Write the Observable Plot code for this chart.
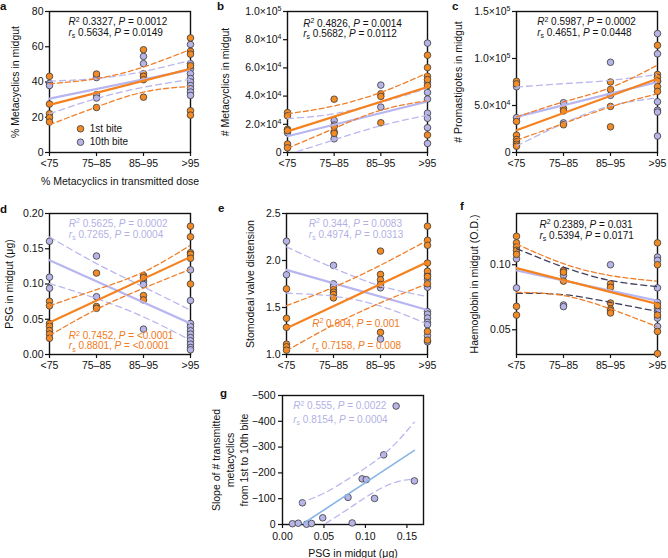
<!DOCTYPE html>
<html>
<head>
<meta charset="utf-8">
<script src="https://cdn.jsdelivr.net/npm/d3@7"></script>
<script src="https://cdn.jsdelivr.net/npm/@observablehq/plot@0.6"></script>
<style>
  html, body { margin: 0; padding: 0; background: #fff; }
  #fig { position: relative; width: 668px; height: 558px; overflow: hidden; background: #fff; }
  #fig > svg { position: absolute; overflow: visible; max-width: none; }
</style>
</head>
<body>
<div id="fig"></div>
<script>
// ---------- data ----------
const cats = ["<75", "75–85", "85–95", ">95"];

// a: % metacyclics in midgut
const aFirst = [[43.2, 27.5, 22, 19.8, 17.3], [44.5, 25.5], [58.3, 44.7, 43.2, 41.3, 31.4], [65, 57.4, 55.8, 49.2, 23.7, 21.2]];
const aTenth = [[39.2, 38], [42.5, 32.8, 30.9], [54.5, 50.4], [61.3, 50.4, 47.5, 44.7, 42, 40, 38, 36.2, 34.3, 32.4]];
const aFit1 = [27, 47.5], aFit10 = [30.6, 47];
const aUp1 = [39, 41.9, 48.5, 58.5], aLo1 = [15.8, 25.8, 34.3, 37.5];
const aUp10 = [40.5, 42, 46, 52.3], aLo10 = [22, 30.6, 37, 41.5];

// b: # metacyclics in midgut
const bFirst = [[28300, 26000, 16400, 15500, 6000, 3300], [37800, 18500, 14700, 13600], [41600, 39800, 21100], [69000, 60200, 54000, 51700, 47400, 12400]];
const bTenth = [[14000], [22700, 19500, 9700], [47800, 32200], [77600, 49800, 42600, 37900, 27900, 24300, 17600, 6400]];
const bFit1 = [15000, 46500], bFit10 = [11500, 36200];
const bUp1 = [27400, 33000, 42600, 56400], bLo1 = [3000, 17100, 30000, 36700];
const bUp10 = [24000, 27500, 35500, 45500], bLo10 = [-1500, 9000, 19000, 26500];

// c: # promastigotes in midgut
const cFirst = [[75700, 73000, 33000, 18400, 13800, 11300, 8800, 6700], [46700, 44200, 29500], [75000, 67000, 49000, 27300], [114000, 83000, 80000, 76000, 70000, 65000]];
const cTenth = [[70000, 37000], [53000, 31500], [96000, 60800], [126500, 105000, 76000, 54000, 45000, 43000, 17500]];
const cFit1 = [23700, 78600], cFit10 = [37900, 75000];
const cUp1 = [37900, 53800, 69000, 93000], cLo1 = [13100, 30800, 48500, 62600];
const cUp10 = [69700, 73200, 76800, 83000], cLo10 = [7000, 31000, 49500, 58000];

// d: PSG in midgut
const dFirst = [[0.0755, 0.069, 0.044, 0.040, 0.034, 0.029, 0.023], [0.1155, 0.068, 0.0655], [0.112, 0.109, 0.0836, 0.0774], [0.182, 0.1668, 0.1444, 0.142, 0.1365, 0.100]];
const dTenth = [[0.1606, 0.1097, 0.094], [0.1397, 0.082], [0.104, 0.0993, 0.036], [0.120, 0.0765, 0.044, 0.0394, 0.0337, 0.029, 0.024, 0.0195, 0.0147, 0.010, 0.0067]];
const dFit1 = [0.0455, 0.1385], dFit10 = [0.1338, 0.044];
const dUp1 = [0.069, 0.092, 0.117, 0.155], dLo1 = [0.027, 0.064, 0.094, 0.121];
const dUp10 = [0.1668, 0.129, 0.0959, 0.0628], dLo10 = [0.1007, 0.0794, 0.0533, 0.0203];

// e: stomodeal valve distension
const eFirst = [[1.698, 1.385, 1.289, 1.11, 1.082, 1.046], [1.688, 1.663, 1.638, 1.602], [2.10, 1.852, 1.795, 1.745, 1.235], [2.365, 2.215, 2.162, 1.973, 1.887, 1.83, 1.752, 1.246, 1.153]];
const eTenth = [[2.205, 1.848], [1.948, 1.752, 1.723], [1.709, 1.164], [1.848, 1.80, 1.716, 1.456, 1.43, 1.388, 1.342, 1.317, 1.2, 1.135]];
const eFit1 = [1.28, 1.984], eFit10 = [1.90, 1.474];
const eUp1 = [1.52, 1.715, 1.95, 2.215], eLo1 = [1.04, 1.315, 1.55, 1.754];
const eUp10 = [2.144, 1.92, 1.73, 1.616], eLo10 = [1.652, 1.62, 1.515, 1.324];

// f: haemoglobin in midgut
const fFirst = [[0.1219, 0.1168, 0.1137, 0.1111, 0.108, 0.068, 0.0613], [0.0956, 0.0943, 0.0874], [0.0853, 0.0827, 0.0706, 0.066, 0.0647, 0.0629], [0.1168, 0.100, 0.0686, 0.0613, 0.0487, 0.0317]];
const fTenth = [[0.1046, 0.0822], [0.0918, 0.0691, 0.0678], [0.100], [0.1059, 0.1034, 0.0822, 0.0711, 0.0665, 0.064, 0.059, 0.0526]];
const fFit1 = [0.0974, 0.0699], fFit10 = [0.0956, 0.0724];
const fUp1 = [0.116, 0.1008, 0.0917, 0.0873], fLo1 = [0.0788, 0.0763, 0.066, 0.0523];
const fUp10 = [0.1124, 0.0982, 0.0879, 0.0832], fLo10 = [0.078, 0.077, 0.0711, 0.0641];

// g: slope vs PSG
const gPsg = [0.012, 0.019, 0.024, 0.029, 0.035, 0.0485, 0.079, 0.084, 0.096, 0.101, 0.111, 0.122, 0.137, 0.159];
const gSlope = [-3, -5, -84, -1, -4, -26, -105, -6, -177, -174, -101, -270, -459, -169];
const gFitX = [0.0234, 0.159], gFitY = [0, -287];
const gUpX = [0.021, 0.05, 0.08, 0.10, 0.12, 0.14, 0.159], gUpY = [-83, -121, -178, -219, -266, -327, -397];
const gLoX = [0.042, 0.05, 0.08, 0.10, 0.12, 0.14, 0.159], gLoY = [15, 0, -62, -105, -142, -167, -177];

// tick labels
const aTicks = [0, 20, 40, 60, 80];
const bTicks = [0, 20000, 40000, 60000, 80000, 100000];
const bTickLabels = ["0", "2.0×10^4^", "4.0×10^4^", "6.0×10^4^", "8.0×10^4^", "1.0×10^5^"];
const cTicks = [0, 50000, 100000, 150000];
const cTickLabels = ["0", "5.0×10^4^", "1.0×10^5^", "1.5×10^5^"];
const dTicks = [0, 0.05, 0.10, 0.15, 0.20];
const eTicks = [1.0, 1.5, 2.0, 2.5];
const fTicks = [0.05, 0.10];
const gXTicks = [0, 0.05, 0.10, 0.15];
const gYTicks = [0, -100, -200, -300, -400, -500];

// ---------- style ----------
const FONT = "'Liberation Sans', Arial, Helvetica, sans-serif";
const col = {
  or: "#f28b26", lav: "#b7b5e8", pt: "#3a3a3a",
  orLine: "#f5821f", lavLine: "#b8b6f0",
  orDash: "#f07f2a", lavDash: "#bab8ee", navy: "#40405e",
  orText: "#f07a22", lavText: "#b3b1e4", blue: "#86b5e6"
};

function flat(groups) { return groups.flatMap((g, i) => g.map(v => ({cat: i, v}))); }

// turn *italic*, ^super^, _sub_ markup into tspans
function rich(svg) {
  svg.querySelectorAll("text").forEach(t => {
    const s = t.textContent;
    if (!/[\^_*]/.test(s)) return;
    while (t.firstChild) t.removeChild(t.firstChild);
    t.style.whiteSpace = "pre";
    let it = false, sup = false, sub = false, buf = "", off = 0;
    const flush = () => {
      if (!buf) return;
      const ts = document.createElementNS("http://www.w3.org/2000/svg", "tspan");
      const target = sup ? -3.8 : sub ? 2.4 : 0;
      if (target !== off) { ts.setAttribute("dy", target - off); off = target; }
      if (it) ts.setAttribute("font-style", "italic");
      if (sup || sub) ts.setAttribute("font-size", "7");
      ts.textContent = buf; t.appendChild(ts); buf = "";
    };
    for (const c of s) {
      if (c === "*") { flush(); it = !it; }
      else if (c === "^") { flush(); sup = !sup; }
      else if (c === "_") { flush(); sub = !sub; }
      else buf += c;
    }
    flush();
  });
}

function statText(str, fill, dx, dy) {
  return Plot.text([str], {x: null, y: null, frameAnchor: "top-left", dx, dy, textAnchor: "start", lineAnchor: "middle", fill, fontSize: 10});
}
function yTitle(str, dx, lineHeight = 1) {
  return Plot.text([str], {x: null, y: null, frameAnchor: "left", dx, rotate: -90, textAnchor: "middle", lineAnchor: "middle", fontSize: 10.5, lineHeight, fill: "#111"});
}
function xTitle(str, dy) {
  return Plot.text([str], {x: null, y: null, frameAnchor: "bottom", dy, textAnchor: "middle", lineAnchor: "middle", fontSize: 10.5, fill: "#111"});
}

function makePlot(p) {
  const svg = Plot.plot({
    width: p.w, height: p.h,
    marginLeft: p.ml, marginRight: p.mr, marginTop: p.mt, marginBottom: p.mb,
    x: {domain: p.xDomain}, y: {domain: p.yDomain},
    style: {fontFamily: FONT, fontSize: "10.5px", background: "transparent", overflow: "visible", color: "#111"},
    marks: p.marks
  });
  svg.style.left = p.left + "px";
  svg.style.top = p.top + "px";
  rich(svg);
  document.getElementById("fig").appendChild(svg);
}

function series(pts, fit, up, lo, fill, line, dash, dashArray) {
  return {pts, fit, up, lo, fill, line, dash, dashArray};
}

function catPanel(p) {
  const m = [
    Plot.frame({stroke: "#111", strokeWidth: 1.4}),
    Plot.axisX({ticks: [0, 1, 2, 3], tickFormat: i => cats[i], tickSize: 4, tickPadding: 3, label: null, color: "#111", strokeWidth: 1.2}),
    Plot.axisY({ticks: p.yTicks, tickFormat: p.yFmt, tickSize: 4, tickPadding: 2, label: null, color: "#111", strokeWidth: 1.2})
  ];
  for (const s of p.series) m.push(Plot.dot(flat(s.pts), {x: "cat", y: "v", r: 3.3, fill: s.fill, stroke: col.pt, strokeWidth: 0.8}));
  for (const s of p.series) {
    for (const band of [s.up, s.lo]) {
      m.push(Plot.line(band, {x: (d, i) => i, y: d => d, curve: "natural", stroke: s.dash, strokeWidth: 1.3, strokeDasharray: s.dashArray, clip: true}));
    }
    m.push(Plot.line(s.fit, {x: (d, i) => 3 * i, y: d => d, stroke: s.line, strokeWidth: 2.2, clip: true}));
  }
  for (const st of p.stats) m.push(statText(...st));
  m.push(yTitle(p.ytitle, p.ytdx));
  if (p.extra) m.push(...p.extra);
  makePlot({...p, xDomain: [0, 3], marks: m});
}

const lavS = (pts, fit, up, lo, dash = col.lavDash) => series(pts, fit, up, lo, col.lav, col.lavLine, dash, "6,4");
const orS = (pts, fit, up, lo) => series(pts, fit, up, lo, col.or, col.orLine, col.orDash, "5,3");
const f2 = d3.format(".2f"), f1 = d3.format(".1f");

// ---------- panel a ----------
catPanel({
  left: 0, top: 0, w: 210, h: 195, ml: 49, mr: 20, mt: 11, mb: 43,
  yDomain: [0, 80], yTicks: aTicks, yFmt: d => String(d),
  series: [lavS(aTenth, aFit10, aUp10, aLo10), orS(aFirst, aFit1, aUp1, aLo1)],
  stats: [["*R*^2^ 0.3327, *P* = 0.0012", "#111", 19, 10.7], ["*r*_s_ 0.5634, *P* = 0.0149", "#111", 19, 21.3]],
  ytitle: "% Metacyclics in midgut", ytdx: -34,
  extra: [
    Plot.dot(["1st bite"], {x: null, y: null, frameAnchor: "top-left", dx: 31, dy: 117.3, r: 3.3, fill: col.or, stroke: col.pt, strokeWidth: 0.8}),
    Plot.dot(["10th bite"], {x: null, y: null, frameAnchor: "top-left", dx: 31, dy: 130.7, r: 3.3, fill: col.lav, stroke: col.pt, strokeWidth: 0.8}),
    Plot.text(["1st bite"], {x: null, y: null, frameAnchor: "top-left", dx: 40.3, dy: 117.3, textAnchor: "start", lineAnchor: "middle", fontSize: 10, fill: "#111"}),
    Plot.text(["10th bite"], {x: null, y: null, frameAnchor: "top-left", dx: 40.3, dy: 130.7, textAnchor: "start", lineAnchor: "middle", fontSize: 10, fill: "#111"}),
    xTitle("% Metacyclics in transmitted dose", 29)
  ]
});

// ---------- panel b ----------
catPanel({
  left: 210, top: 0, w: 230, h: 195, ml: 77, mr: 13, mt: 11, mb: 43,
  yDomain: [0, 100000], yTicks: bTicks, yFmt: d => bTickLabels[bTicks.indexOf(d)],
  series: [lavS(bTenth, bFit10, bUp10, bLo10), orS(bFirst, bFit1, bUp1, bLo1)],
  stats: [["*R*^2^ 0.4826, *P* = 0.0014", "#111", 15.7, 12.3], ["*r*_s_ 0.5682, *P* = 0.0112", "#111", 15.7, 22.3]],
  ytitle: "# Metacyclics in midgut", ytdx: -62
});

// ---------- panel c ----------
catPanel({
  left: 440, top: 0, w: 228, h: 195, ml: 76, mr: 11, mt: 11, mb: 43,
  yDomain: [0, 150000], yTicks: cTicks, yFmt: d => cTickLabels[cTicks.indexOf(d)],
  series: [lavS(cTenth, cFit10, cUp10, cLo10), orS(cFirst, cFit1, cUp1, cLo1)],
  stats: [["*R*^2^ 0.5987, *P* = 0.0002", "#111", 20.7, 10.7], ["*r*_s_ 0.4651, *P* = 0.0448", "#111", 20.7, 21.3]],
  ytitle: "# Promastigotes in midgut", ytdx: -58
});

// ---------- panel d ----------
catPanel({
  left: 0, top: 195, w: 210, h: 179, ml: 49, mr: 20, mt: 18, mb: 20,
  yDomain: [0, 0.2], yTicks: dTicks, yFmt: f2,
  series: [lavS(dTenth, dFit10, dUp10, dLo10), orS(dFirst, dFit1, dUp1, dLo1)],
  stats: [
    ["*R*^2^ 0.5625, *P* = 0.0002", col.lavText, 19.3, 10.3], ["*r*_s_ 0.7265, *P* = 0.0004", col.lavText, 19.3, 21],
    ["*R*^2^ 0.7452, *P* = <0.0001", col.orText, 19.3, 122.7], ["*r*_s_ 0.8801, *P* = <0.0001", col.orText, 19.3, 132.7]
  ],
  ytitle: "PSG in midgut (μg)", ytdx: -40
});

// ---------- panel e ----------
catPanel({
  left: 210, top: 195, w: 230, h: 179, ml: 76, mr: 13, mt: 18, mb: 20,
  yDomain: [1, 2.5], yTicks: eTicks, yFmt: f1,
  series: [lavS(eTenth, eFit10, eUp10, eLo10), orS(eFirst, eFit1, eUp1, eLo1)],
  stats: [
    ["*R*^2^ 0.344, *P* = 0.0083", col.lavText, 22.3, 10.3], ["*r*_s_ 0.4974, *P* = 0.0313", col.lavText, 22.3, 21],
    ["*R*^2^ 0.604, *P* = 0.001", col.orText, 25.7, 110.3], ["*r*_s_ 0.7158, *P* = 0.008", col.orText, 25.7, 132.7]
  ],
  ytitle: "Stomodeal valve distension", ytdx: -36
});

// ---------- panel f ----------
catPanel({
  left: 440, top: 195, w: 228, h: 179, ml: 76, mr: 11, mt: 18, mb: 20,
  yDomain: [0.031, 0.1394], yTicks: fTicks, yFmt: f2,
  series: [lavS(fTenth, fFit10, fUp10, fLo10, col.navy), orS(fFirst, fFit1, fUp1, fLo1)],
  stats: [["*R*^2^ 0.2389, *P* = 0.031", "#111", 23, 11.3], ["*r*_s_ 0.5394, *P* = 0.0171", "#111", 23, 22]],
  ytitle: "Haemoglobin in midgut (O.D.)", ytdx: -42
});

// ---------- panel g ----------
makePlot({
  left: 200, top: 370, w: 240, h: 188, ml: 82, mr: 17, mt: 25, mb: 34,
  xDomain: [0, 0.17], yDomain: [0, -500],
  marks: [
    Plot.frame({stroke: "#111", strokeWidth: 1.4}),
    Plot.axisX({ticks: gXTicks, tickFormat: f2, tickSize: 4, tickPadding: 4, label: null, color: "#111", strokeWidth: 1.2}),
    Plot.axisY({ticks: gYTicks, tickFormat: d => d === 0 ? "0" : "−" + Math.abs(d), tickSize: 4, tickPadding: 3, label: null, color: "#111", strokeWidth: 1.2}),
    Plot.dot(gPsg, {x: d => d, y: (d, i) => gSlope[i], r: 3.3, fill: col.lav, stroke: col.pt, strokeWidth: 0.8}),
    Plot.line(gUpX, {x: d => d, y: (d, i) => gUpY[i], curve: "natural", stroke: col.lavDash, strokeWidth: 1.3, strokeDasharray: "6,4", clip: true}),
    Plot.line(gLoX, {x: d => d, y: (d, i) => gLoY[i], curve: "natural", stroke: col.lavDash, strokeWidth: 1.3, strokeDasharray: "6,4", clip: true}),
    Plot.line(gFitX, {x: d => d, y: (d, i) => gFitY[i], stroke: col.blue, strokeWidth: 1.6, clip: true}),
    statText("*R*^2^ 0.555, *P* = 0.0022", col.lavText, 10.7, 10.7),
    statText("*r*_s_ 0.8154, *P* = 0.0004", col.lavText, 10.7, 24.3),
    yTitle("Slope of # transmitted\nmetacyclics\nfrom 1st to 10th bite", -53, 1.3),
    xTitle("PSG in midgut (μg)", 29)
  ]
});

// ---------- panel letters ----------
const letters = [["a", 0, 10], ["b", 217, 10], ["c", 452, 10], ["d", 0, 213], ["e", 218, 212], ["f", 460, 210], ["g", 220, 397]];
const ov = d3.create("svg").attr("width", 668).attr("height", 558).style("left", "0px").style("top", "0px").style("pointer-events", "none");
ov.selectAll("text").data(letters).join("text")
  .attr("x", d => d[1]).attr("y", d => d[2])
  .attr("font-family", FONT).attr("font-weight", "bold").attr("font-size", 11.5).attr("fill", "#111")
  .text(d => d[0]);
document.getElementById("fig").appendChild(ov.node());
</script>
</body>
</html>
